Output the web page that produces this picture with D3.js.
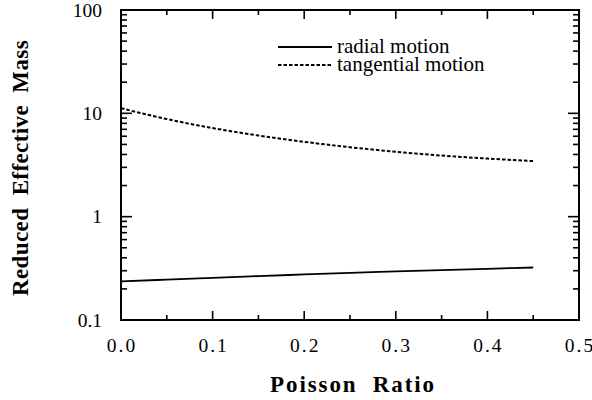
<!DOCTYPE html>
<html><head><meta charset="utf-8">
<script src="https://cdn.jsdelivr.net/npm/d3@7"></script>
<style>body{margin:0;background:#fff}svg{display:block}</style>
</head><body><svg id="c" width="592" height="400"></svg>
<script>
const poisson = [0, 0.05, 0.1, 0.15, 0.2, 0.25, 0.3, 0.35, 0.4, 0.45];
const radial = [0.236, 0.246, 0.256, 0.266, 0.276, 0.286, 0.295, 0.304, 0.313, 0.322];
const tangential = [11.2, 8.8, 7.2, 6.1, 5.3, 4.7, 4.25, 3.9, 3.65, 3.45];
const xTicks = [0, 0.1, 0.2, 0.3, 0.4, 0.5];
const yTicks = [0.1, 1, 10, 100];
const seriesNames = ["radial motion", "tangential motion"];

const FONT = "Liberation Serif";
const svg = d3.select("#c");
const L = 121, R = 579, T = 10, B = 320;
const x = d3.scaleLinear().domain([0, 0.5]).range([L, R]);
const y = d3.scaleLog().domain([0.1, 100]).range([B, T]);

const minorY = [];
[0.1, 1, 10].forEach(d => { for (let k = 2; k <= 9; k++) minorY.push(d * k); });
const minorX = [0.05, 0.15, 0.25, 0.35, 0.45];

const g = svg.append("g");
function tk(x1, y1, x2, y2) {
  g.append("line").attr("x1", x1).attr("y1", y1).attr("x2", x2).attr("y2", y2)
    .attr("stroke", "#000").attr("stroke-width", 1.6);
}
yTicks.slice(1, 3).forEach(v => { tk(L, y(v), L + 11, y(v)); tk(R, y(v), R - 11, y(v)); });
minorY.forEach(v => { tk(L, y(v), L + 6, y(v)); tk(R, y(v), R - 6, y(v)); });
xTicks.slice(1, 5).forEach(v => { tk(x(v), B, x(v), B - 9); tk(x(v), T, x(v), T + 9); });
minorX.forEach(v => { tk(x(v), B, x(v), B - 5); tk(x(v), T, x(v), T + 5); });

svg.append("rect").attr("x", L).attr("y", T).attr("width", R - L).attr("height", B - T)
  .attr("fill", "none").attr("stroke", "#000").attr("stroke-width", 2);

svg.selectAll(".yl").data(yTicks).enter().append("text")
  .style("font-family", FONT).style("font-size", "19.5px")
  .attr("x", 102).attr("y", d => y(d)).attr("dy", "0.35em")
  .attr("text-anchor", "end").text(d => d3.format("~g")(d));
svg.selectAll(".xl").data(xTicks).enter().append("text")
  .style("font-family", FONT).style("font-size", "19.5px")
  .attr("x", d => x(d) + 1).attr("y", 352).attr("letter-spacing", 2)
  .attr("text-anchor", "middle").text(d => d.toFixed(1));

svg.append("text").style("font-family", FONT).style("font-size", "23px").style("font-weight", "bold")
  .attr("x", 353).attr("y", 392).attr("text-anchor", "middle").attr("letter-spacing", 1.9)
  .attr("xml:space", "preserve").text("Poisson  Ratio");
svg.append("text").style("font-family", FONT).style("font-size", "23px").style("font-weight", "bold")
  .attr("transform", "translate(28,168) rotate(-90)")
  .attr("text-anchor", "middle").attr("letter-spacing", 0.4)
  .attr("xml:space", "preserve").text("Reduced  Effective  Mass");

const line = vals => d3.line().x((d, i) => x(poisson[i])).y(d => y(d)).curve(d3.curveMonotoneX)(vals);
svg.append("path").attr("d", line(radial)).attr("fill", "none").attr("stroke", "#000").attr("stroke-width", 1.8);
svg.append("path").attr("d", line(tangential)).attr("fill", "none").attr("stroke", "#000")
  .attr("stroke-width", 2).attr("stroke-dasharray", "3.5,2");

const leg = [{n: seriesNames[0], dash: null, yy: 47}, {n: seriesNames[1], dash: "3.5,2", yy: 65}];
leg.forEach(l => {
  svg.append("line").attr("x1", 278).attr("x2", 332).attr("y1", l.yy).attr("y2", l.yy)
    .attr("stroke", "#000").attr("stroke-width", l.dash ? 2 : 1.8).attr("stroke-dasharray", l.dash);
  svg.append("text").style("font-family", FONT).style("font-size", "21px")
    .attr("x", 337).attr("y", l.yy).attr("dy", "0.3em").text(l.n);
});
</script></body></html>
